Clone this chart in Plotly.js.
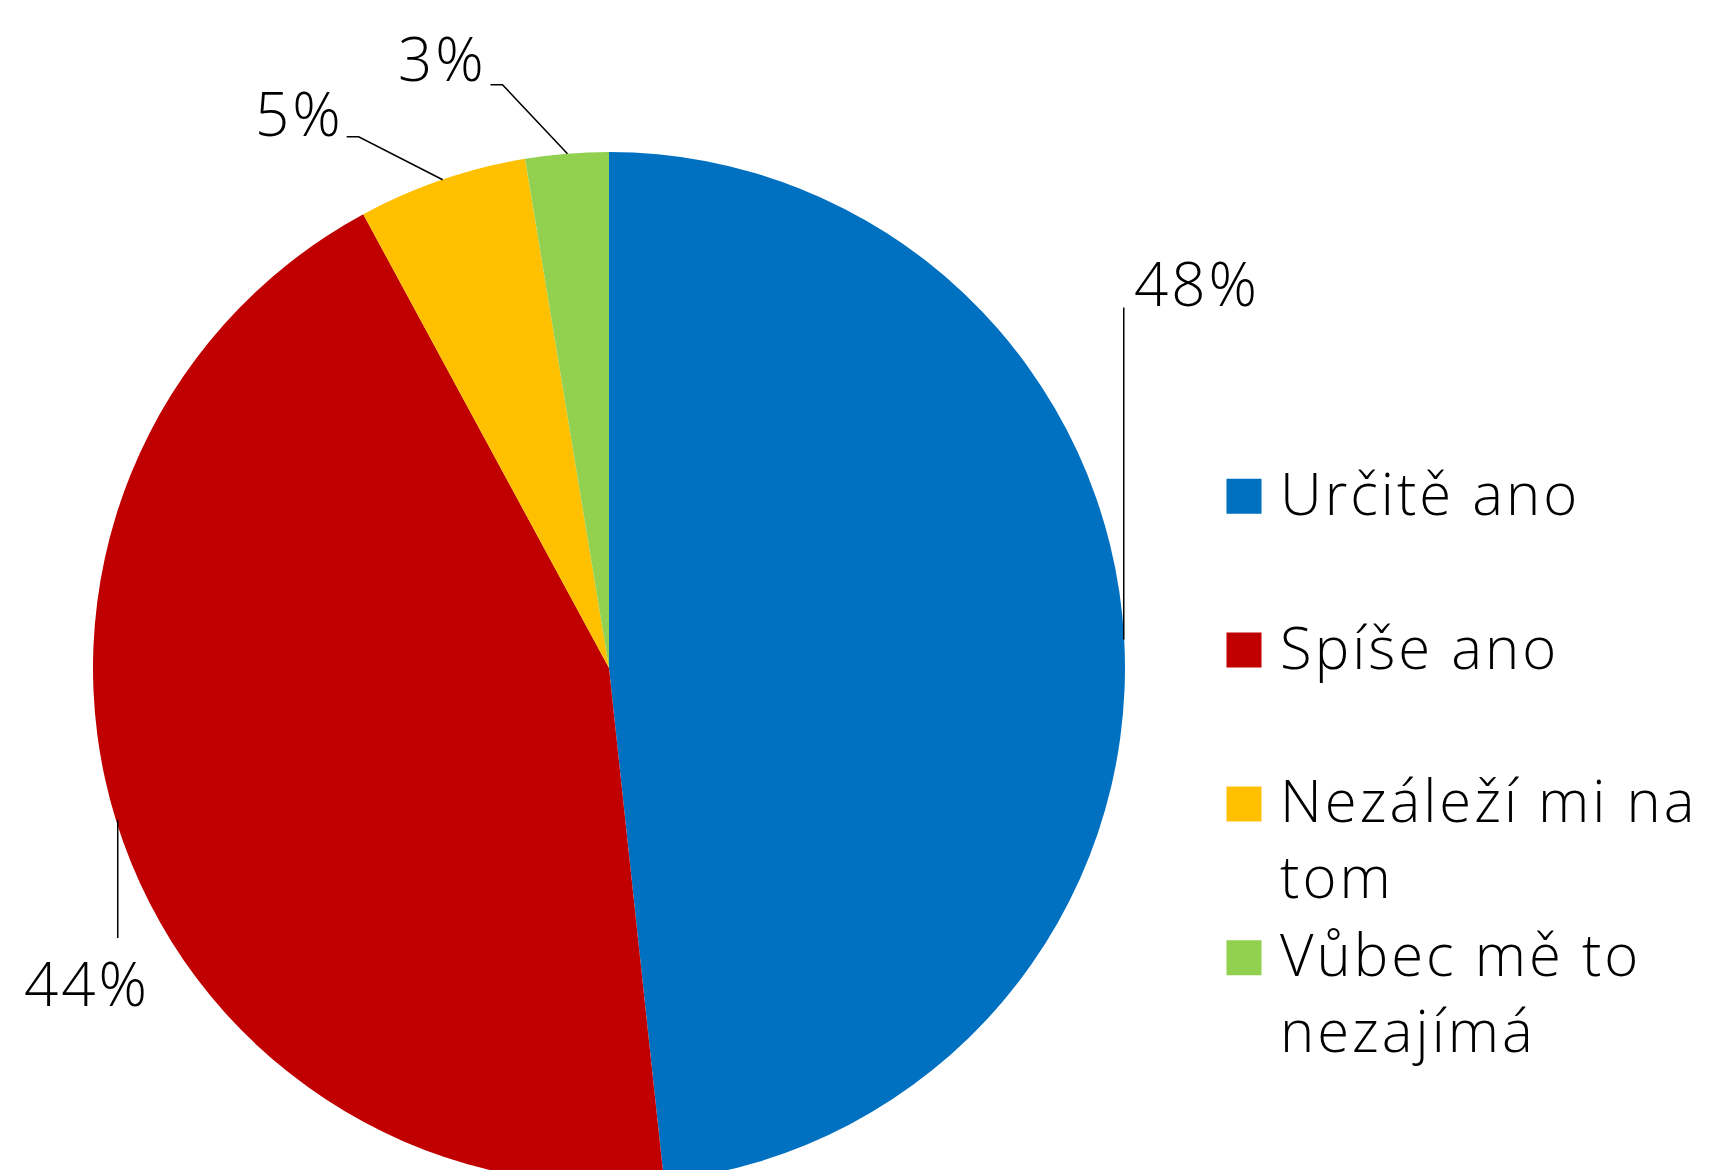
<!DOCTYPE html>
<html>
<head>
<meta charset="utf-8">
<script src="https://cdn.plot.ly/plotly-3.0.1.min.js"></script>
<style>
  html, body { margin: 0; padding: 0; overflow: hidden; background: #fff; }
  #chart { width: 1716px; height: 1200px; }
  .annotation-text, .legendtext { letter-spacing: 3px; }
</style>
</head>
<body>
<div id="chart"></div>
<script>
// ---- data ----
const categories = ['Určitě ano', 'Spíše ano', 'Nezáleží mi na tom', 'Vůbec mě to nezajímá'];
const legendLabels = ['Určitě ano<br> ', 'Spíše ano<br> ', 'Nezáleží mi na<br>tom', 'Vůbec mě to<br>nezajímá'];
const shares = [48.3, 43.8, 5.3, 2.6];   // percent
const colors = ['#0070C0', '#C00000', '#FFC000', '#92D050'];

// ---- layout constants (pixels) ----
const W = 1716, H = 1200;
const pieLeft = 93, pieTop = 152, pieSize = 1032;
const cx = 609.5, cy = 667, R = 515;
const leaderOffsets = [
  [[0, 0], [0, -332]],
  [[0, 0], [0, 118]],
  [[0, 0], [-84, -43], [-96, -43]],
  [[0, 0], [-65, -69], [-77, -69]]
];
const labelOffsets = [[73, -357], [-31, 163], [-143, -67], [-125, -96]];
const FONT = 'Open Sans, Lato, DejaVu Sans, sans-serif';

const px = x => x / W;
const py = y => 1 - y / H;

// leader lines and labels anchored at each slice's mid-angle on the rim
const shapes = [], annotations = [];
const total = shares.reduce((a, b) => a + b, 0);
let cum = 0;
shares.forEach((v, i) => {
  const ang = (cum + v / 2) / total * 2 * Math.PI;
  cum += v;
  const ax = cx + R * Math.sin(ang);
  const ay = cy - R * Math.cos(ang);
  const pts = leaderOffsets[i].map(o => [ax + o[0], ay + o[1]]);
  const path = pts.map((q, k) => (k ? 'L' : 'M') + px(q[0]) + ',' + py(q[1])).join(' ');
  shapes.push({type: 'path', xref: 'paper', yref: 'paper', path: path,
               line: {color: '#000', width: 1.5}});
  annotations.push({xref: 'paper', yref: 'paper',
    x: px(ax + labelOffsets[i][0]), y: py(ay + labelOffsets[i][1]),
    xanchor: 'center', yanchor: 'middle', showarrow: false,
    text: Math.round(v / total * 100) + '%',
    font: {family: FONT, size: 60, color: '#000', weight: 300}});
});

const trace = {
  type: 'pie',
  labels: legendLabels,
  values: shares,
  customdata: categories,
  sort: false,
  direction: 'clockwise',
  rotation: 0,
  textinfo: 'none',
  hoverinfo: 'skip',
  marker: {colors: colors, line: {width: 0}},
  domain: {x: [px(pieLeft), px(pieLeft + pieSize)], y: [py(pieTop + pieSize), py(pieTop)]}
};

const layout = {
  width: W, height: H,
  margin: {l: 0, r: 0, t: 0, b: 0},
  paper_bgcolor: '#fff',
  showlegend: true,
  legend: {
    x: 1207 / W, xanchor: 'left',
    y: py(448), yanchor: 'top',
    itemwidth: 63, valign: 'top',
    bgcolor: 'rgba(0,0,0,0)',
    font: {family: FONT, size: 58, color: '#000', weight: 300}
  },
  shapes: shapes,
  annotations: annotations
};

Plotly.newPlot('chart', [trace], layout, {staticPlot: true}).then(() => {
  document.querySelectorAll('.legend .traces').forEach(item => {
    const p = item.querySelector('path.legendpie');
    const line = item.querySelector('.legendtext tspan.line') || item.querySelector('.legendtext');
    if (!p || !line) return;
    p.removeAttribute('transform');
    p.setAttribute('d', 'M17.5,17.5V-17.5H-17.5V17.5Z');
    const pr = p.getBoundingClientRect();
    const tr = line.getBoundingClientRect();
    const wantX = tr.left - 36, wantY = tr.top + tr.height / 2 + 4;
    const dx = wantX - (pr.left + pr.width / 2);
    const dy = wantY - (pr.top + pr.height / 2);
    p.setAttribute('transform', 'translate(' + dx + ',' + dy + ')');
  });
});
</script>
</body>
</html>
